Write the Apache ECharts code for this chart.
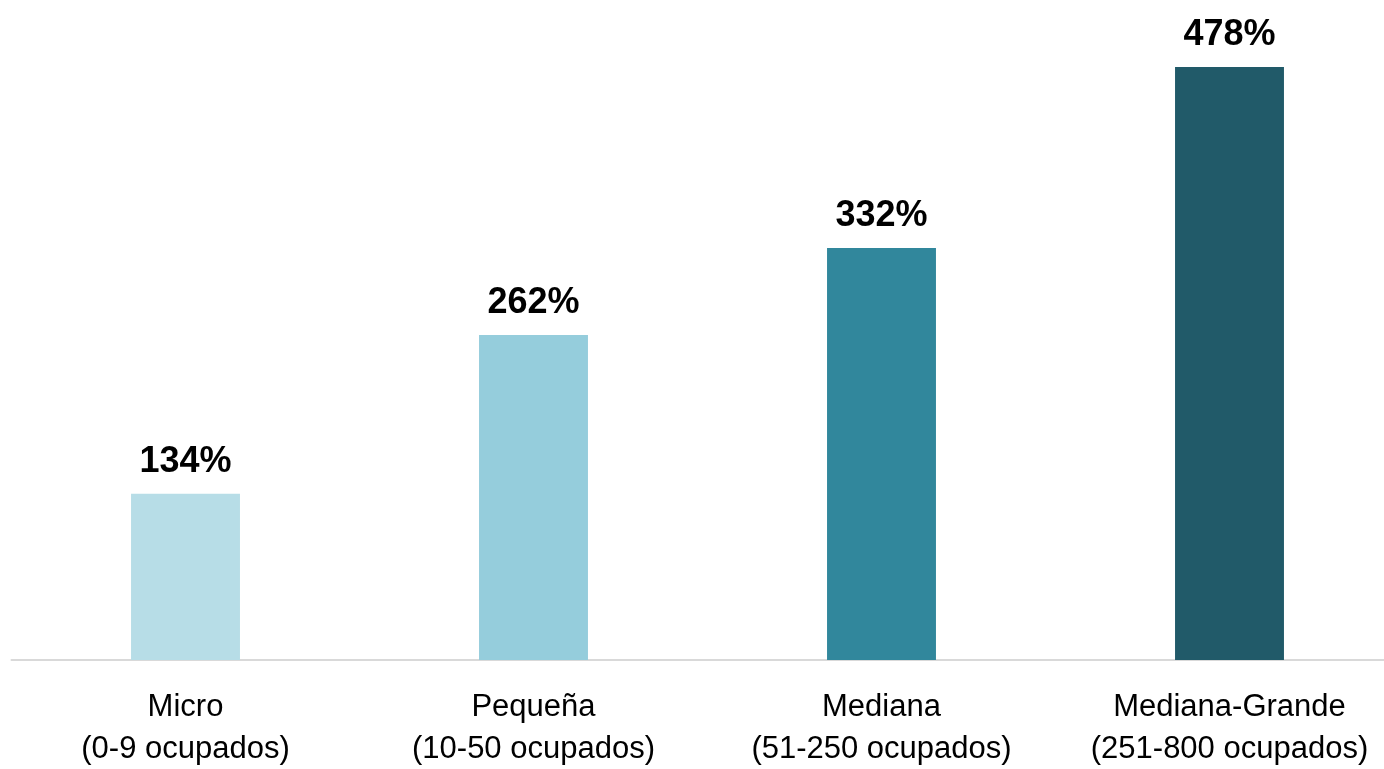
<!DOCTYPE html>
<html>
<head>
<meta charset="utf-8">
<script src="https://cdn.jsdelivr.net/npm/echarts@6/dist/echarts.min.js"></script>
<style>html,body{margin:0;padding:0;background:#fff;}#c{width:1384px;height:769px;}</style>
</head>
<body>
<div id="c"></div>
<script>
var categories = ['Micro\n(0-9 ocupados)', 'Pequeña\n(10-50 ocupados)', 'Mediana\n(51-250 ocupados)', 'Mediana-Grande\n(251-800 ocupados)'];
var values = [134, 262, 332, 478];
var barColors = ['#b7dde7', '#95cddc', '#31879c', '#215a69'];

var FONT = "'Liberation Sans Narrow', 'Arial Narrow', 'Liberation Sans', Arial, sans-serif";
var chart = echarts.init(document.getElementById('c'));
chart.setOption({
  animation: false,
  grid: { left: 11.5, width: 1392, top: 39.7, bottom: 109, outerBoundsMode: 'none', containLabel: false },
  xAxis: {
    type: 'category',
    data: categories,
    axisLine: { lineStyle: { color: '#d9d9d9', width: 2 } },
    axisTick: { show: false },
    axisLabel: { color: '#000', fontFamily: FONT, fontSize: 31, lineHeight: 42, margin: 26, interval: 0 }
  },
  yAxis: {
    type: 'value', min: 0, max: 500,
    show: false, splitLine: { show: false }
  },
  series: [{
    type: 'bar',
    data: values.map(function (v, i) { return { value: v, itemStyle: { color: barColors[i] } }; }),
    barWidth: '31.3%',
    label: {
      show: true, position: 'top', distance: 14,
      formatter: '{c}%',
      color: '#000', fontFamily: FONT, fontWeight: 'bold', fontSize: 36
    }
  }]
});
</script>
</body>
</html>
